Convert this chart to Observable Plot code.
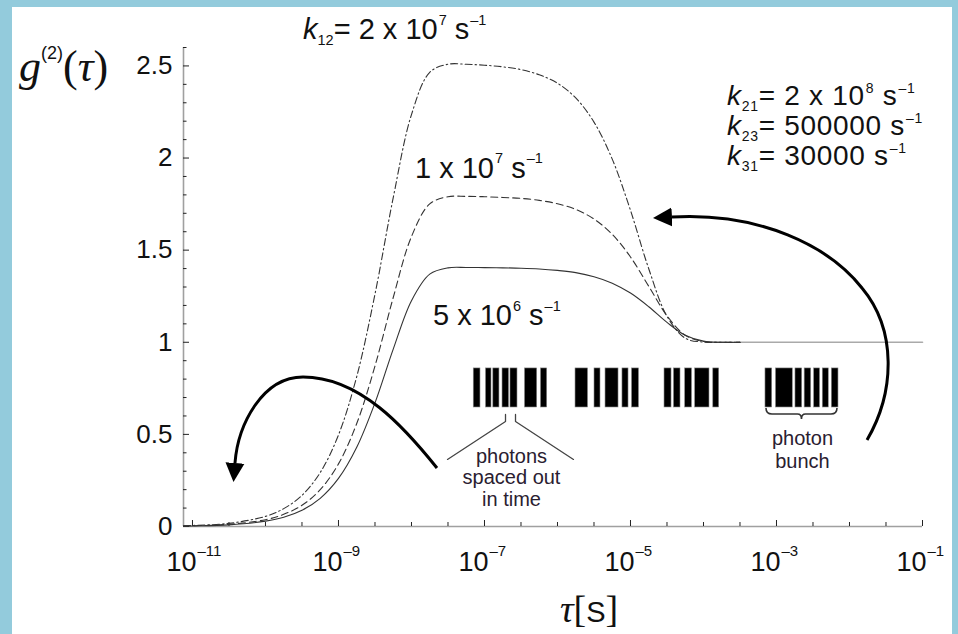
<!DOCTYPE html>
<html><head><meta charset="utf-8">
<script src="https://cdn.jsdelivr.net/npm/d3@7"></script>
<script src="https://cdn.jsdelivr.net/npm/@observablehq/plot@0.6"></script>
<style>
html,body{margin:0;padding:0;}
body{width:958px;height:634px;background:#93cbdc;position:relative;overflow:hidden;}
#panel{position:absolute;left:12px;top:7px;width:940px;height:627px;background:#fff;}
#chart{position:absolute;left:0;top:0;}
</style></head><body><div id="panel"></div><div id="chart"></div>
<script>
// ---- data: g2(tau) (x = log10 tau) ----
const logTau = [-11.123, -11, -10.5, -10, -9.75, -9.5, -9.25, -9, -8.75, -8.5, -8.25, -8, -7.75, -7.5, -7.25, -7, -6.75, -6.5, -6.25, -6, -5.75, -5.5, -5.25, -5, -4.75, -4.5, -4.25, -4, -3.75, -3.5, -3, -2, -1];
const gSolid = [0.002, 0.003, 0.009, 0.029, 0.050, 0.088, 0.153, 0.261, 0.430, 0.671, 0.963, 1.226, 1.370, 1.404, 1.406, 1.405, 1.404, 1.402, 1.398, 1.390, 1.378, 1.356, 1.321, 1.267, 1.193, 1.108, 1.038, 1.006, 1.000, 1.000, 1.000, 1.000, 1.000];
const gDashed = [0.003, 0.004, 0.012, 0.037, 0.066, 0.115, 0.200, 0.340, 0.559, 0.871, 1.243, 1.574, 1.751, 1.790, 1.792, 1.790, 1.786, 1.781, 1.770, 1.752, 1.721, 1.669, 1.586, 1.463, 1.304, 1.144, 1.038, 1.004, 1.000, 1.000];
const gDashDot = [0.004, 0.0055, 0.017, 0.055, 0.097, 0.169, 0.293, 0.497, 0.814, 1.261, 1.785, 2.236, 2.465, 2.509, 2.509, 2.504, 2.495, 2.480, 2.452, 2.406, 2.326, 2.195, 1.994, 1.716, 1.399, 1.141, 1.022, 1.001, 1.000, 1.000];

// ---- axis ticks ----
const yMajor = [0, 0.5, 1, 1.5, 2, 2.5];
const yLabels = ["0", "0.5", "1", "1.5", "2", "2.5"];
const yMinor = [0.1, 0.2, 0.3, 0.4, 0.6, 0.7, 0.8, 0.9, 1.1, 1.2, 1.3, 1.4, 1.6, 1.7, 1.8, 1.9, 2.1, 2.2, 2.3, 2.4, 2.6];
const xMajorExp = [-11, -9, -7, -5, -3, -1];
const xLabelSup = ["\u201311", "\u20139", "\u20137", "\u20135", "\u20133", "\u20131"];
const xMinorExp = [-10.5, -10, -9.5, -8.5, -8, -7.5, -6.5, -6, -5.5, -4.5, -4, -3.5, -2.5, -2, -1.5];

// ---- photon "barcode" illustration (log10 tau of each bar's edges) ----
const barStart = [-7.147, -6.979, -6.879, -6.753, -6.644, -6.445, -6.226, -5.753, -5.493, -5.342, -5.110, -4.979, -4.534, -4.404, -4.251, -4.114, -3.866, -3.151, -3.007, -2.740, -2.614, -2.484, -2.366, -2.242];
const barEnd   = [-7.055, -6.904, -6.795, -6.664, -6.548, -6.278, -6.141, -5.582, -5.411, -5.164, -5.027, -4.884, -4.438, -4.315, -4.158, -3.918, -3.785, -3.059, -2.777, -2.648, -2.525, -2.404, -2.284, -2.151];

// ---- annotation texts ----
const k12Values = ["2 x 10", "1 x 10", "5 x 10"];
const k12Exps = ["7", "7", "6"];
const k12LabelT = [-9.479, -7.945, -7.699];
const k12LabelG = [2.643, 1.889, 1.091];
const rateNames = ["21", "23", "31"];
const rateValues = ["2 x 10", "500000", "30000"];
const rateExps = ["8", "", ""];
const rateLabelT = -3.671;
const rateLabelG = [2.285, 2.122, 1.960];
const spacedLines = ["photons", "spaced out", "in time"];
const spacedT = -6.630, spacedG = [0.347, 0.228, 0.109];
const bunchLines = ["photon", "bunch"];
const bunchT = -2.644, bunchG = [0.440, 0.320];
const pointerLeftT = [-7.507, -6.712, -6.712], pointerLeftG = [0.364, 0.570, 0.608];
const pointerRightT = [-6.575, -6.575, -5.781], pointerRightG = [0.608, 0.570, 0.364];
const leftArrowT = [-7.644, -8.082, -8.699, -9.479, -10.041, -10.370, -10.411];
const leftArrowG = [0.315, 0.532, 0.809, 0.809, 0.809, 0.548, 0.342];
const rightArrowT = [-1.753, -1.370, -1.342, -1.822, -2.274, -3.219, -4.425];
const rightArrowG = [0.467, 0.727, 1.064, 1.292, 1.520, 1.704, 1.677];

// ---- layout ----
const W = 958, H = 634;
const mL = 183, mR = 36, mT = 47, mB = 108;
const xMin = 10 ** logTau[0], xMax = 10 ** -1, yMax = 2.6;
const pxPerDecade = (W - mL - mR) / (Math.log10(xMax) - Math.log10(xMin));
const pxPerUnit = (H - mT - mB) / yMax;
const SANS = "'Liberation Sans', Arial, Helvetica, sans-serif";
const SERIF = "'Liberation Serif', 'Times New Roman', serif";
const barTop = 0.858, barBottom = 0.646;

const rows = (g, name) => g.map((v, i) => ({tau: 10 ** logTau[i], lt: logTau[i], g: v, s: name}));
const solid = rows(gSolid, "5e6"), dashed = rows(gDashed, "1e7"), dashdot = rows(gDashDot, "2e7");
const bars = barStart.map((s, i) => ({x1: 10 ** s, x2: 10 ** barEnd[i]}));
const pts = (T, G) => T.map((t, i) => ({tau: 10 ** t, g: G[i]}));

const plot = Plot.plot({
  width: W, height: H,
  marginLeft: mL, marginRight: mR, marginTop: mT, marginBottom: mB,
  x: {type: "log", domain: [xMin, xMax], axis: null},
  y: {domain: [0, yMax], axis: null},
  style: {background: "transparent", fontFamily: SANS, overflow: "visible"},
  marks: [
    // axis lines
    Plot.ruleY([0], {x1: xMin, x2: xMax, stroke: "#a0a0a0", strokeWidth: 1.6}),
    Plot.ruleX([xMin], {y1: 0, y2: yMax, stroke: "#a0a0a0", strokeWidth: 1.6}),
    // ticks (inward)
    Plot.ruleY(yMajor, {x1: xMin, x2: xMin * 10 ** (6 / pxPerDecade), stroke: "#222", strokeWidth: 1}),
    Plot.ruleY(yMinor, {x1: xMin, x2: xMin * 10 ** (3.5 / pxPerDecade), stroke: "#222", strokeWidth: 1}),
    Plot.ruleX(xMajorExp, {x: d => 10 ** d, y1: 0, y2: 6 / pxPerUnit, stroke: "#222", strokeWidth: 1}),
    Plot.ruleX(xMinorExp, {x: d => 10 ** d, y1: 0, y2: 4 / pxPerUnit, stroke: "#222", strokeWidth: 1}),
    // tick labels
    Plot.text(yMajor, {x: xMin, y: d => d, text: (d, i) => yLabels[i], dx: -11, textAnchor: "end", fontSize: 26, fill: "#111"}),
    Plot.text(xMajorExp, {x: d => 10 ** d, y: 0, text: () => "10", dx: 4, dy: 36, textAnchor: "end", fontSize: 27, fill: "#111"}),
    Plot.text(xMajorExp, {x: d => 10 ** d, y: 0, text: (d, i) => xLabelSup[i], dx: 5, dy: 25, textAnchor: "start", fontSize: 15, fill: "#111"}),
    // curves
    Plot.line(solid, {filter: d => d.lt > -3.6, x: "tau", y: "g", stroke: "#aaaaaa", strokeWidth: 1.6}),
    Plot.line(solid, {filter: d => d.lt <= -3.5, x: "tau", y: "g", stroke: "#333", strokeWidth: 1.1, curve: "catmull-rom"}),
    Plot.line(dashed, {x: "tau", y: "g", stroke: "#333", strokeWidth: 1.1, strokeDasharray: "7,4", curve: "catmull-rom"}),
    Plot.line(dashdot, {x: "tau", y: "g", stroke: "#333", strokeWidth: 1.1, strokeDasharray: "7,3,1.5,3", curve: "catmull-rom"}),
    // barcode
    Plot.rect(bars, {x1: "x1", x2: "x2", y1: barBottom, y2: barTop, fill: "#000", stroke: "#888", strokeWidth: 0.6}),
    // pointer lines
    Plot.line(pts(pointerLeftT, pointerLeftG), {x: "tau", y: "g", stroke: "#444", strokeWidth: 1.3}),
    Plot.line(pts(pointerRightT, pointerRightG), {x: "tau", y: "g", stroke: "#444", strokeWidth: 1.3}),
    // text labels
    Plot.text(spacedLines, {x: 10 ** spacedT, y: (d, i) => spacedG[i], text: d => d, fontSize: 20, fill: "#2a2030", lineAnchor: "bottom", textAnchor: "middle"}),
    Plot.text(bunchLines, {x: 10 ** bunchT, y: (d, i) => bunchG[i], text: d => d, fontSize: 20, fill: "#2a2030", lineAnchor: "bottom", textAnchor: "middle"})
  ]
});
document.getElementById("chart").appendChild(plot);

// ---- overlays positioned with the plot's own scales ----
const svg = d3.select(plot);
const sx = plot.scale("x"), sy = plot.scale("y");
const X = lt => sx.apply(10 ** lt), Y = g => sy.apply(g);

function richText(parent, x, y, parts, {size = 27, anchor = "start", family = SANS, fill = "#111", supOff = 0.5, spacing = 0} = {}) {
  const t = parent.append("text").attr("x", x).attr("y", y).attr("text-anchor", anchor)
    .attr("font-family", family).attr("font-size", size).attr("fill", fill);
  if (spacing) t.attr("letter-spacing", spacing);
  let cur = 0;
  for (const p of parts) {
    const off = p.sub ? size * 0.2 : p.sup ? -size * supOff : (p.dy || 0);
    const ts = t.append("tspan").text(p.t).attr("dy", off - cur);
    cur = off;
    if (p.sub || p.sup) ts.attr("font-size", p.size || size * 0.5);
    else if (p.size) ts.attr("font-size", p.size);
    if (p.italic) ts.attr("font-style", "italic");
    if (p.family) ts.attr("font-family", p.family);
    if (p.dx) ts.attr("dx", p.dx);
  }
  return t;
}

const ann = svg.append("g");
// k12 labels
k12Values.forEach((v, i) => {
  const parts = [];
  if (i === 0) parts.push({t: "k", italic: true}, {t: "12", sub: true}, {t: "= "});
  parts.push({t: v}, {t: k12Exps[i], sup: true, dx: 1}, {t: " s"}, {t: "\u20131", sup: true, dx: 1});
  richText(ann, X(k12LabelT[i]), Y(k12LabelG[i]), parts, {size: 29});
});
// other rates
rateNames.forEach((n, i) => {
  const parts = [{t: "k", italic: true}, {t: n, sub: true}, {t: "= " + rateValues[i]}];
  if (rateExps[i]) parts.push({t: rateExps[i], sup: true, dx: 1});
  parts.push({t: " s"}, {t: "\u20131", sup: true, dx: 1});
  richText(ann, X(rateLabelT), Y(rateLabelG[i]), parts, {size: 28, supOff: 0.42, spacing: 0.7});
});

// axis titles
richText(ann, 19, 81, [
  {t: "g", italic: true, family: SERIF},
  {t: "(2)", sup: true, size: 18, family: SANS},
  {t: "(", family: SERIF}, {t: "\u03c4", italic: true, family: SERIF}, {t: ")", family: SERIF}
], {size: 44, family: SERIF});
richText(ann, 560, 622, [
  {t: "\u03c4", italic: true, family: SERIF}, {t: "[", family: SERIF}, {t: "S", family: SANS, size: 29}, {t: "]", family: SERIF}
], {size: 38, family: SERIF});

// arrows
const defs = svg.append("defs");
defs.append("marker").attr("id", "ah").attr("viewBox", "0 0 10 10").attr("refX", 0).attr("refY", 5)
  .attr("markerWidth", 19).attr("markerHeight", 20).attr("markerUnits", "userSpaceOnUse").attr("orient", "auto")
  .append("path").attr("d", "M0,0L10,5L0,10Z").attr("fill", "#000");
function bezierPath(T, G) {
  const p = T.map((t, i) => [X(t), Y(G[i])]);
  return `M${p[0]}C${p[1]} ${p[2]} ${p[3]}C${p[4]} ${p[5]} ${p[6]}`;
}
ann.append("path").attr("d", bezierPath(leftArrowT, leftArrowG)).attr("fill", "none").attr("stroke", "#000").attr("stroke-width", 3).attr("marker-end", "url(#ah)");
ann.append("path").attr("d", bezierPath(rightArrowT, rightArrowG)).attr("fill", "none").attr("stroke", "#000").attr("stroke-width", 3).attr("marker-end", "url(#ah)");

// brace under the photon bunch
{
  const x0 = X(barStart[17]) + 1, x1 = X(barEnd[23]) - 1, xm = (x0 + x1) / 2, y0 = Y(barBottom) + 1;
  ann.append("path").attr("d",
    `M${x0},${y0}Q${x0},${y0 + 6} ${x0 + 6},${y0 + 6}L${xm - 4},${y0 + 6}Q${xm},${y0 + 6} ${xm},${y0 + 11}Q${xm},${y0 + 6} ${xm + 4},${y0 + 6}L${x1 - 6},${y0 + 6}Q${x1},${y0 + 6} ${x1},${y0}`)
    .attr("fill", "none").attr("stroke", "#333").attr("stroke-width", 1.6);
}
</script></body></html>
